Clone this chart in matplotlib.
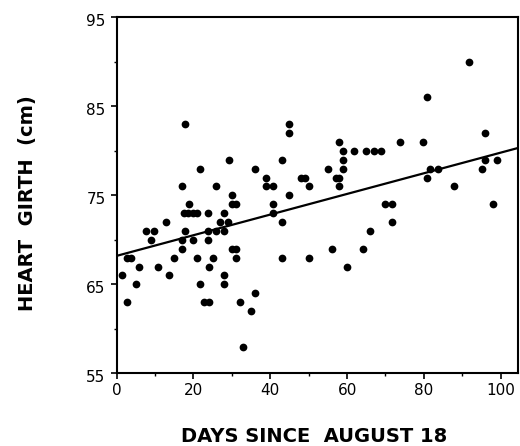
import matplotlib
matplotlib.use("Agg")
import matplotlib.pyplot as plt
import numpy as np
from matplotlib.ticker import MultipleLocator
from matplotlib.transforms import ScaledTranslation

days = [1.5, 2.6, 3.8, 2.6, 5.0, 5.7, 7.7, 9.7, 8.9, 10.8, 12.9, 13.7, 14.8,
        17.0, 17.8, 17.0, 17.0, 17.7, 18.9, 17.5, 18.7, 19.9, 21.0, 19.9, 21.7,
        21.0, 21.7, 22.8, 24.1, 23.9, 23.9, 23.9, 24.1, 25.1, 25.8, 25.8, 27.0,
        28.0, 28.0, 29.0, 29.2, 30.0, 30.0, 31.0, 30.0, 31.0, 31.0, 28.0, 28.0,
        32.1, 33.0, 35.0, 36.1, 36.1, 39.0, 38.9, 40.8, 40.8, 40.8, 43.0, 43.0,
        43.0, 45.0, 45.0, 45.0, 48.0, 49.1, 50.0, 50.0, 55.0, 56.1, 57.0, 58.0,
        58.0, 57.8, 59.0, 59.0, 59.0, 60.0, 61.9, 64.1, 64.8, 65.9, 67.0, 68.9,
        69.9, 71.7, 71.7, 73.9, 79.7, 80.9, 80.9, 81.7, 83.8, 87.8, 91.7, 95.1,
        95.8, 95.8, 98.1, 99.1]
girth = [66, 68, 68, 63, 65, 67, 71, 71, 70, 67, 72, 66, 68,
         76, 83, 70, 69, 71, 74, 73, 73, 73, 73, 70, 78,
         68, 65, 63, 63, 73, 71, 70, 67, 68, 76, 71, 72,
         73, 71, 72, 79, 75, 74, 74, 69, 69, 68, 66, 65,
         63, 58, 62, 64, 78, 77, 76, 76, 74, 73, 79, 72,
         68, 83, 82, 75, 77, 77, 76, 68, 78, 69, 77, 77,
         76, 81, 80, 79, 78, 67, 80, 69, 80, 71, 80, 80,
         74, 74, 72, 81, 81, 86, 77, 78, 78, 76, 90, 78,
         79, 82, 74, 79]

fit_intercept = 68.2
fit_slope = 0.116

x_ticks = [0, 20, 40, 60, 80, 100]
y_ticks = [55, 65, 75, 85, 95]

plt.rcParams['font.family'] = ['DejaVu Sans']

fig = plt.figure(figsize=(5.20, 4.46), dpi=100)
ax = fig.add_axes([0.2244, 0.163, 0.7724, 0.798])

ax.scatter(days, girth, s=31, color='black', linewidths=0, zorder=3)
xl = np.array([0, 105])
ax.plot(xl, fit_intercept + fit_slope * xl, color='black', lw=1.6, zorder=2)

ax.set_xlim(0, 104.6)
ax.set_ylim(55, 95)
ax.set_xticks(x_ticks)
ax.set_yticks(y_ticks)
ax.xaxis.set_minor_locator(MultipleLocator(10))
ax.yaxis.set_minor_locator(MultipleLocator(5))
ax.tick_params(which='major', direction='out', length=4, width=1.2,
               labelsize=11, colors='black')
ax.tick_params(which='minor', direction='out', length=2.5, width=1.0)
ax.tick_params(axis='y', pad=4)
ax.tick_params(axis='x', pad=3)
for lab in ax.get_yticklabels():
    lab.set_transform(lab.get_transform() + ScaledTranslation(0, -0.025, fig.dpi_scale_trans))
for sp in ax.spines.values():
    sp.set_linewidth(1.5)
    sp.set_color('black')

fig.text(0.605, 0.0085, 'DAYS SINCE  AUGUST 18', ha='center', va='baseline',
         fontsize=14, fontweight='bold')
fig.text(0.052, 0.545, 'HEART  GIRTH  (cm)', ha='center', va='center',
         rotation=90, fontsize=14, fontweight='bold')

fig.savefig('out.png', dpi=100)
